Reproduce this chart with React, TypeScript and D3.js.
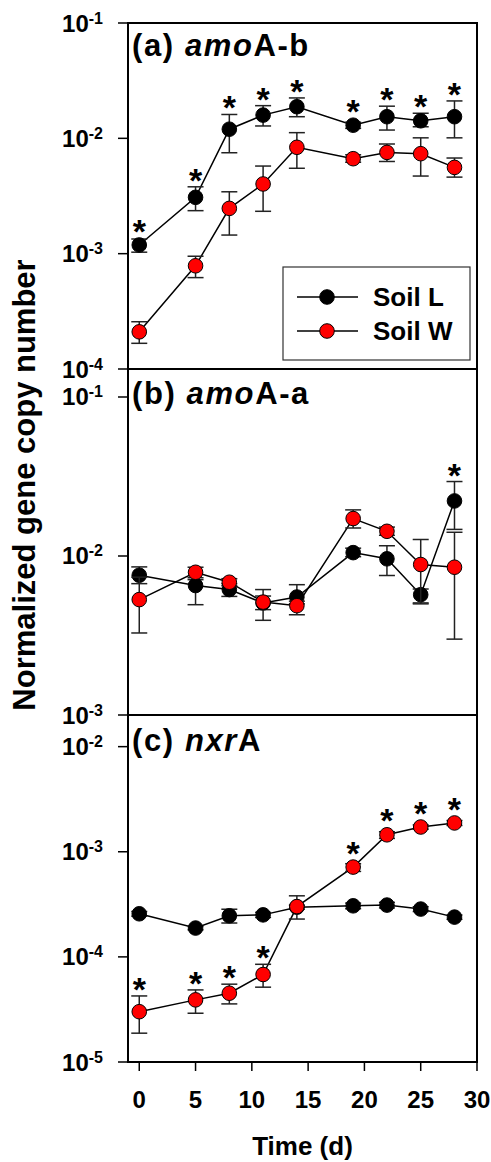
import React from "react";
import * as d3 from "d3";

// ---- data ----
const days = [0, 5, 8, 11, 14, 19, 22, 25, 28];
const xTicks = [0, 5, 10, 15, 20, 25, 30];
const seriesNames = ["Soil L", "Soil W"];

// panel (a) amoA-b
const aL = [1.19e-3, 3.08e-3, 1.2e-2, 1.59e-2, 1.88e-2, 1.3e-2, 1.54e-2, 1.42e-2, 1.54e-2];
const aLHi = [1.34e-3, 3.8e-3, 1.61e-2, 1.92e-2, 2.24e-2, 1.38e-2, 1.9e-2, 1.65e-2, 2.11e-2];
const aLLo = [1.03e-3, 2.36e-3, 7.5e-3, 1.28e-2, 1.54e-2, 1.22e-2, 1.18e-2, 1.26e-2, 1.01e-2];
const aW = [2.1e-4, 7.85e-4, 2.47e-3, 4.02e-3, 8.36e-3, 6.66e-3, 7.55e-3, 7.36e-3, 5.6e-3];
const aWHi = [2.57e-4, 9.5e-4, 3.44e-3, 5.75e-3, 1.12e-2, 7.2e-3, 8.93e-3, 1.01e-2, 6.75e-3];
const aWLo = [1.67e-4, 6.2e-4, 1.45e-3, 2.33e-3, 5.5e-3, 6.2e-3, 6.3e-3, 4.71e-3, 4.61e-3];
const aStarL = [true, true, true, true, true, true, true, true, true];
const aStarW = [false, false, false, false, false, false, false, false, false];

// panel (b) amoA-a
const bL = [7.57e-3, 6.52e-3, 6.15e-3, 5.07e-3, 5.52e-3, 1.05e-2, 9.6e-3, 5.71e-3, 2.22e-2];
const bLHi = [8.54e-3, 7.1e-3, 6.7e-3, 6.15e-3, 6.6e-3, 1.12e-2, 1.16e-2, 6.2e-3, 2.94e-2];
const bLLo = [6.7e-3, 4.94e-3, 5.57e-3, 4.6e-3, 5.0e-3, 9.9e-3, 7.54e-3, 5.07e-3, 1.47e-2];
const bW = [5.32e-3, 7.9e-3, 6.84e-3, 5.13e-3, 4.87e-3, 1.72e-2, 1.43e-2, 8.84e-3, 8.5e-3];
const bWHi = [7.36e-3, 8.5e-3, 7.2e-3, 5.6e-3, 5.2e-3, 1.95e-2, 1.52e-2, 1.27e-2, 1.41e-2];
const bWLo = [3.28e-3, 7.3e-3, 6.5e-3, 3.94e-3, 4.27e-3, 1.5e-2, 1.35e-2, 5.0e-3, 3.0e-3];
const bStarL = [false, false, false, false, false, false, false, false, true];
const bStarW = [false, false, false, false, false, false, false, false, false];

// panel (c) nxrA
const cL = [2.57e-4, 1.88e-4, 2.46e-4, 2.51e-4, 2.97e-4, 3.06e-4, 3.11e-4, 2.85e-4, 2.39e-4];
const cLHi = [2.7e-4, 1.95e-4, 2.84e-4, 2.65e-4, 3.1e-4, 3.25e-4, 3.3e-4, 3.0e-4, 2.5e-4];
const cLLo = [2.44e-4, 1.81e-4, 2.1e-4, 2.37e-4, 2.84e-4, 2.87e-4, 2.92e-4, 2.7e-4, 2.28e-4];
const cW = [3.01e-5, 3.9e-5, 4.51e-5, 6.8e-5, 3.01e-4, 7.15e-4, 1.45e-3, 1.72e-3, 1.88e-3];
const cWHi = [4.25e-5, 4.85e-5, 5.5e-5, 8.5e-5, 3.81e-4, 7.7e-4, 1.55e-3, 1.8e-3, 1.98e-3];
const cWLo = [1.88e-5, 2.91e-5, 3.57e-5, 5.15e-5, 2.29e-4, 6.5e-4, 1.34e-3, 1.64e-3, 1.78e-3];
const cStarL = [false, false, false, false, false, false, false, false, false];
const cStarW = [true, true, true, true, false, true, true, true, true];

const aExps = [-4, -3, -2, -1];
const bExps = [-3, -2, -1];
const cExps = [-5, -4, -3, -2];

const FONT = "Arial, 'Liberation Sans', Helvetica, sans-serif";
const COLORS = ["#000000", "#ff0000"];

const L = 128, R = 477;
const x = d3.scaleLinear().domain([-1, 30]).range([L, R]);

type Series = { mean: number[]; hi: number[]; lo: number[]; star: boolean[] };
type PanelDef = {
  top: number; bottom: number; domain: [number, number]; exps: number[]; titleDy: number;
  label: [string, string, string]; series: Series[]; legend?: boolean;
};

const panels: PanelDef[] = [
  { top: 23, bottom: 369, domain: [1e-4, 1e-1], exps: aExps, titleDy: 33, label: ["(a) ", "amo", "A-b"], legend: true,
    series: [{ mean: aL, hi: aLHi, lo: aLLo, star: aStarL }, { mean: aW, hi: aWHi, lo: aWLo, star: aStarW }] },
  { top: 369, bottom: 715, domain: [1e-3, 1.5e-1], exps: bExps, titleDy: 35, label: ["(b) ", "amo", "A-a"],
    series: [{ mean: bL, hi: bLHi, lo: bLLo, star: bStarL }, { mean: bW, hi: bWHi, lo: bWLo, star: bStarW }] },
  { top: 715, bottom: 1062, domain: [1e-5, 2e-2], exps: cExps, titleDy: 36, label: ["(c) ", "nxr", "A"],
    series: [{ mean: cL, hi: cLHi, lo: cLLo, star: cStarL }, { mean: cW, hi: cWHi, lo: cWLo, star: cStarW }] },
];

const MR = 7.3;
const CAP = 8;

function Panel({ p }: { p: PanelDef }) {
  const y = d3.scaleLog().domain(p.domain).range([p.bottom, p.top]);
  const line = d3.line<number>().x((_, i) => x(days[i])).y((v) => y(v));
  return (
    <g>
      {p.exps.map((e) => {
        const ty = y(Math.pow(10, e));
        return (
          <g key={e}>
            <line x1={L - 10} x2={L} y1={ty} y2={ty} stroke="#000" strokeWidth={1.5} />
            <text x={103} y={ty + 8.5} textAnchor="end" fontSize={24} fontWeight="bold" fontFamily={FONT}>
              10<tspan dy={-8} fontSize={16}>{String(e)}</tspan>
            </text>
          </g>
        );
      })}
      {p.series.map((s, si) => (
        <g key={si}>
          <path d={line(s.mean) || ""} fill="none" stroke="#000" strokeWidth={1.5} />
          {s.mean.map((v, i) => {
            const cx = x(days[i]);
            return (
              <g key={i} stroke="#222" strokeWidth={1.5}>
                <line x1={cx} x2={cx} y1={y(s.lo[i])} y2={y(s.hi[i])} />
                <line x1={cx - CAP} x2={cx + CAP} y1={y(s.hi[i])} y2={y(s.hi[i])} />
                <line x1={cx - CAP} x2={cx + CAP} y1={y(s.lo[i])} y2={y(s.lo[i])} />
              </g>
            );
          })}
          {s.mean.map((v, i) => (
            <circle key={i} cx={x(days[i])} cy={y(v)} r={MR} fill={COLORS[si]} stroke="#000" strokeWidth={1} />
          ))}
          {s.mean.map((v, i) => {
            if (!s.star[i]) return null;
            const topY = Math.min(y(s.hi[i]), y(v) - MR);
            const cy = topY - 14;
            return (
              <text key={i} x={x(days[i])} y={cy + 19} textAnchor="middle" fontSize={34} fontWeight="bold" fontFamily={FONT}>*</text>
            );
          })}
        </g>
      ))}
      <text x={132} y={p.top + p.titleDy} fontSize={31} letterSpacing={1.6} fontWeight="bold" fontFamily={FONT}>
        {p.label[0]}<tspan fontStyle="italic">{p.label[1]}</tspan>{p.label[2]}
      </text>
      <rect x={L} y={p.top} width={R - L} height={p.bottom - p.top} fill="none" stroke="#000" strokeWidth={2} />
      {p.legend && (
        <g>
          <rect x={283} y={267} width={187} height={93} fill="#fff" stroke="#333" strokeWidth={1.2} />
          {seriesNames.map((n, i) => {
            const ly = 297 + i * 34;
            return (
              <g key={n}>
                <line x1={297} x2={358} y1={ly} y2={ly} stroke="#000" strokeWidth={1.5} />
                <circle cx={327} cy={ly} r={MR} fill={COLORS[i]} stroke="#000" strokeWidth={1} />
                <text x={373} y={ly + 9} fontSize={26} fontWeight="bold" fontFamily={FONT}>{n}</text>
              </g>
            );
          })}
        </g>
      )}
    </g>
  );
}

export default function App() {
  const bottom = panels[2].bottom;
  return (
    <svg width={491} height={1162} style={{ position: "absolute", left: 0, top: 0, background: "#fff" }}>
      <rect width={491} height={1162} fill="#fff" />
      {panels.map((p, i) => <Panel key={i} p={p} />)}
      {xTicks.map((t) => (
        <g key={t}>
          <line x1={x(t)} x2={x(t)} y1={bottom} y2={bottom + 9} stroke="#000" strokeWidth={1.5} />
          <text x={x(t)} y={1108} textAnchor="middle" fontSize={24} fontWeight="bold" fontFamily={FONT}>{t}</text>
        </g>
      ))}
      <text x={302.5} y={1155} textAnchor="middle" fontSize={26} fontWeight="bold" fontFamily={FONT}>Time (d)</text>
      <text transform="translate(35,485) rotate(-90)" textAnchor="middle" fontSize={31} fontWeight="bold" fontFamily={FONT}>
        Normalized gene copy number
      </text>
    </svg>
  );
}
